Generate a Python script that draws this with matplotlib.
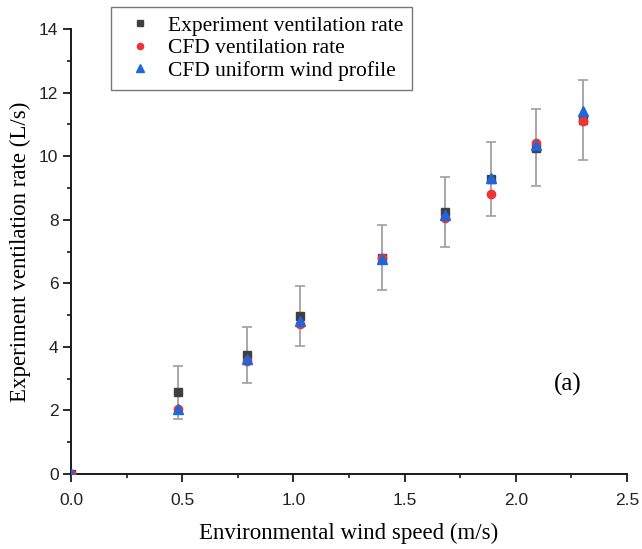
import matplotlib
matplotlib.use("Agg")
import matplotlib.pyplot as plt
from matplotlib.ticker import MultipleLocator

wind_speed = [0.0, 0.48, 0.79, 1.03, 1.40, 1.68, 1.89, 2.09, 2.30]
exp_rate = [0.0, 2.57, 3.73, 4.97, 6.81, 8.23, 9.28, 10.27, 11.13]
exp_err = [0.0, 0.83, 0.88, 0.94, 1.03, 1.10, 1.15, 1.20, 1.25]
cfd_rate = [0.0, 2.03, 3.57, 4.72, 6.80, 8.05, 8.80, 10.42, 11.10]
cfd_uniform = [0.0, 2.03, 3.62, 4.82, 6.75, 8.15, 9.30, 10.35, 11.43]
x_ticks = [0.0, 0.5, 1.0, 1.5, 2.0, 2.5]
y_ticks = [0, 2, 4, 6, 8, 10, 12, 14]

serif = ["Liberation Serif", "DejaVu Serif"]
sans = ["Liberation Sans", "DejaVu Sans"]

fig = plt.figure(figsize=(6.42, 5.49), dpi=100)
ax = fig.add_axes([71/642, 75/549, 556/642, 445/549])

ax.errorbar(wind_speed, exp_rate, yerr=exp_err, fmt="none", ecolor="#a0a0a0",
            elinewidth=1.3, capsize=3.4, capthick=1.2, zorder=2)
ax.plot(wind_speed, exp_rate, linestyle="none", marker="s", markersize=5.6,
        color="#404040", label="Experiment ventilation rate", zorder=3)
ax.plot(wind_speed, cfd_rate, linestyle="none", marker="o", markersize=6.0,
        color="#ee3535", label="CFD ventilation rate", zorder=4)
ax.plot(wind_speed, cfd_uniform, linestyle="none", marker="^", markersize=6.8,
        color="#1f66dd", label="CFD uniform wind profile", zorder=5)

ax.set_xlim(0, 2.5)
ax.set_ylim(0, 14)
ax.set_xticks(x_ticks)
ax.set_yticks(y_ticks)
ax.xaxis.set_minor_locator(MultipleLocator(0.25))
ax.yaxis.set_minor_locator(MultipleLocator(1))
ax.spines["top"].set_visible(False)
ax.spines["right"].set_visible(False)
for s in ("left", "bottom"):
    ax.spines[s].set_linewidth(1.4)
    ax.spines[s].set_color("#1a1a1a")
ax.tick_params(which="major", direction="out", length=5.5, width=1.3, colors="#1a1a1a", pad=3.5)
ax.tick_params(which="minor", direction="out", length=3, width=1.2, colors="#1a1a1a")
ax.tick_params(axis="x", which="major", pad=8)
ax.set_xticklabels([f"{v:.1f}" for v in x_ticks], fontfamily=sans, fontsize=12.5, color="#222222")
ax.set_yticklabels([str(v) for v in y_ticks], fontfamily=sans, fontsize=12.5, color="#222222")

ax.set_xlabel("Environmental wind speed (m/s)", fontfamily=serif, fontsize=16.5, labelpad=11)
ax.set_ylabel("Experiment ventilation rate (L/s)", fontfamily=serif, fontsize=16.5, labelpad=6)

ax.text(2.235, 2.83, "(a)", fontfamily=serif, fontsize=18, ha="center", va="center")

leg = ax.legend(loc="upper left", bbox_to_anchor=((111 - 71) / 556, (474 - 7) / 445),
                prop={"family": serif, "size": 15.5}, frameon=True, fancybox=False,
                edgecolor="#555555", handlelength=1.9, handletextpad=0.36,
                borderpad=0.4, labelspacing=0.12, markerscale=0.75, borderaxespad=0)
leg.get_frame().set_linewidth(1.0)

fig.savefig("out.png", dpi=100)
